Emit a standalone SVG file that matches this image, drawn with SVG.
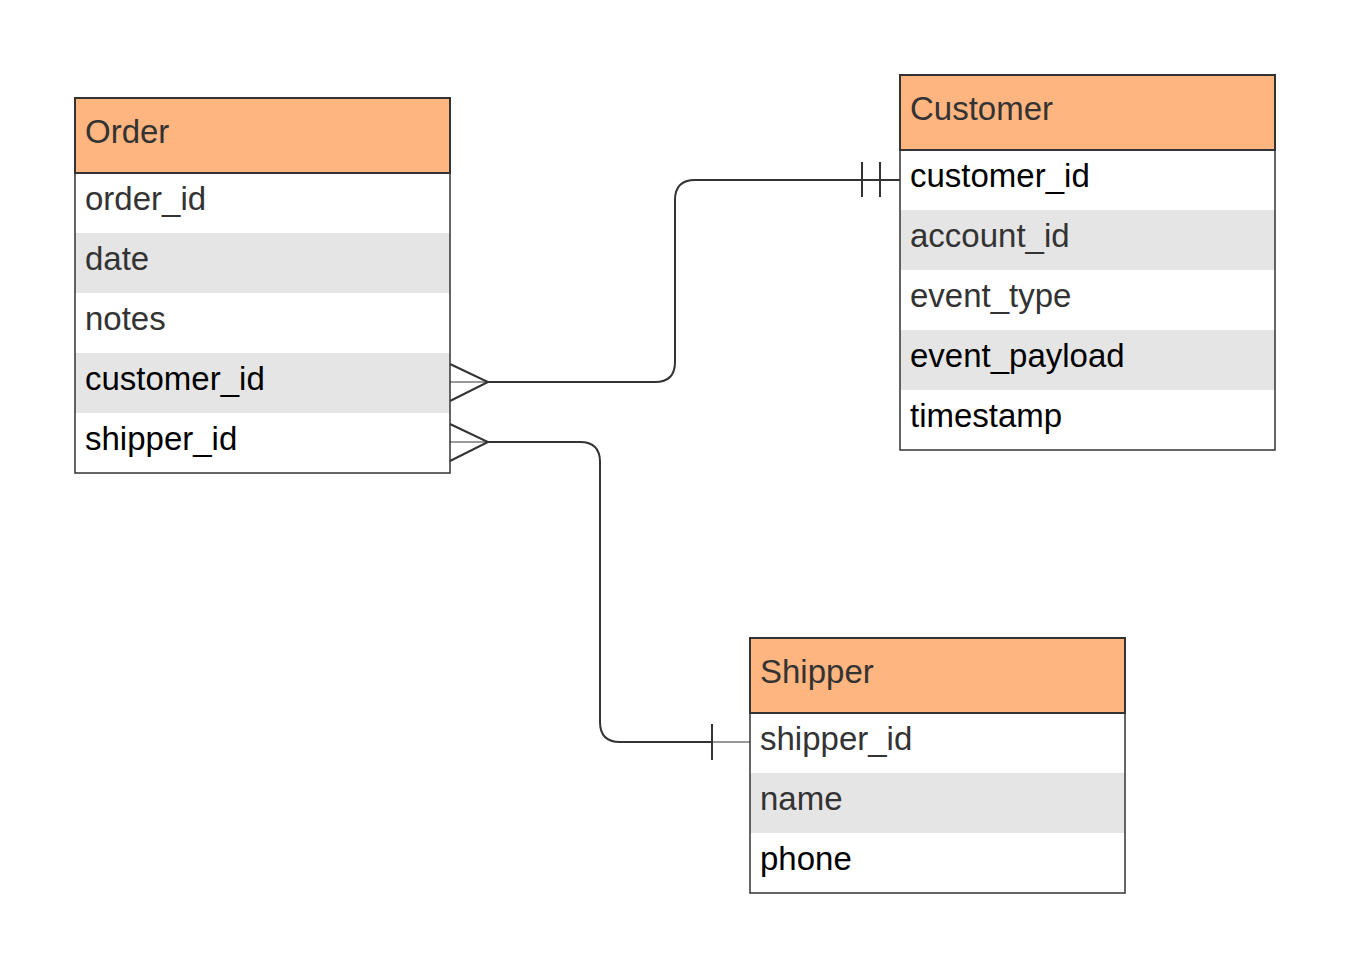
<svg xmlns="http://www.w3.org/2000/svg" width="1350" height="968" viewBox="0 0 1350 968">
<style>
.hdr{fill:#ffb580;stroke:#333;stroke-width:2}
.row{fill:#fff}
.alt{fill:#e5e5e5}
.box{fill:none;stroke:#333;stroke-width:1.5}
text{font-family:"Liberation Sans",Arial,sans-serif;font-size:33px;fill:#333}
.k{fill:#000}
.c{fill:none;stroke:#333;stroke-width:2}
.t{fill:none;stroke:#333;stroke-width:1}
</style>
<rect width="1350" height="968" fill="#fff"/>
<g id="order">
<rect class="row" x="75" y="173" width="375" height="300"/>
<rect class="alt" x="75" y="233" width="375" height="60"/>
<rect class="alt" x="75" y="353" width="375" height="60"/>
<rect class="hdr" x="75" y="98" width="375" height="75"/>
<rect class="box" x="75" y="98" width="375" height="375"/>
<text x="85" y="143">Order</text>
<text x="85" y="210">order_id</text>
<text x="85" y="270">date</text>
<text x="85" y="330">notes</text>
<text class="k" x="85" y="390">customer_id</text>
<text class="k" x="85" y="450">shipper_id</text>
</g>
<g id="customer">
<rect class="row" x="900" y="150" width="375" height="300"/>
<rect class="alt" x="900" y="210" width="375" height="60"/>
<rect class="alt" x="900" y="330" width="375" height="60"/>
<rect class="hdr" x="900" y="75" width="375" height="75"/>
<rect class="box" x="900" y="75" width="375" height="375"/>
<text x="910" y="120">Customer</text>
<text class="k" x="910" y="187">customer_id</text>
<text x="910" y="247">account_id</text>
<text x="910" y="307">event_type</text>
<text class="k" x="910" y="367">event_payload</text>
<text class="k" x="910" y="427">timestamp</text>
</g>
<g id="shipper">
<rect class="row" x="750" y="713" width="375" height="180"/>
<rect class="alt" x="750" y="773" width="375" height="60"/>
<rect class="hdr" x="750" y="638" width="375" height="75"/>
<rect class="box" x="750" y="638" width="375" height="255"/>
<text x="760" y="683">Shipper</text>
<text x="760" y="750">shipper_id</text>
<text x="760" y="810">name</text>
<text class="k" x="760" y="870">phone</text>
</g>
<g id="connectors">
<path class="c" d="M488,382 H655 Q675,382 675,362 V200 Q675,180 695,180 H900"/>
<path class="c" d="M450,364 L488,382 L450,401"/>
<path class="t" d="M450,382 H488"/>
<path class="c" d="M862,162 V197 M880,162 V197"/>
<path class="c" d="M488,442 H580 Q600,442 600,462 V722 Q600,742 620,742 H712"/>
<path class="c" d="M450,424 L488,442 L450,461"/>
<path class="t" d="M450,442 H488 M712,742 H750"/>
<path class="c" d="M712,724 V760"/>
</g>
</svg>
